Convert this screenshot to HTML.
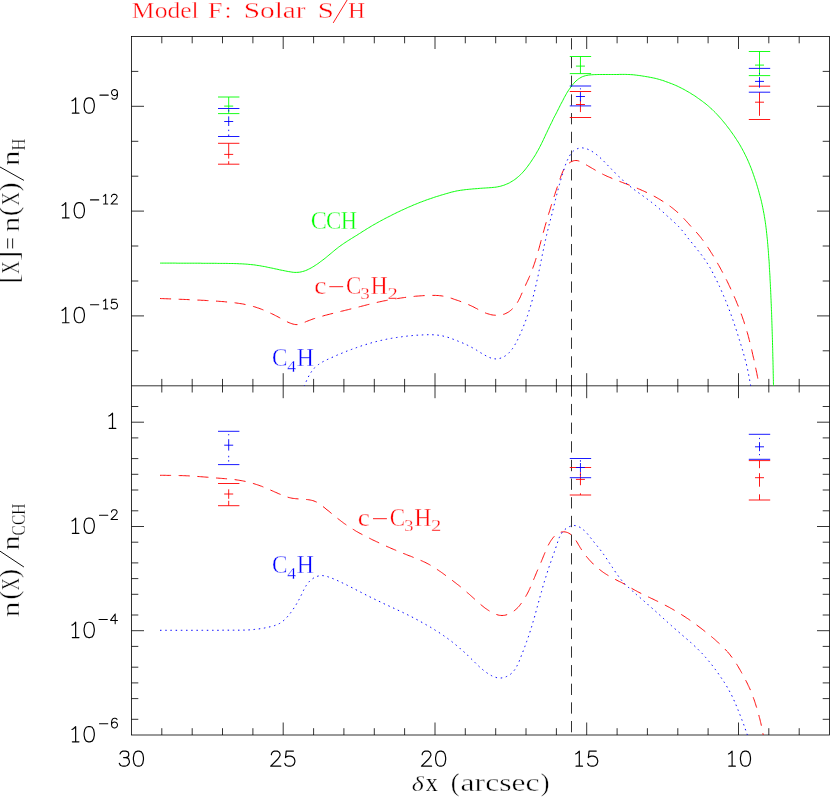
<!DOCTYPE html>
<html><head><meta charset="utf-8"><title>Model F: Solar S/H</title>
<style>
html,body{margin:0;padding:0;background:#fff;}
body{width:830px;height:797px;position:relative;overflow:hidden;font-family:"Liberation Serif",serif;}
svg{position:absolute;left:0;top:0;display:block;}
</style></head><body>
<svg width="830" height="797" viewBox="0 0 830 797">
<rect x="0" y="0" width="830" height="797" fill="#fff"/>
<g stroke="#000" stroke-width="0.8" fill="none" shape-rendering="auto">
<rect x="131.5" y="36.5" width="698.0" height="698.5"/>
<line x1="131.5" y1="385.8" x2="829.5" y2="385.8"/>
<path d="M799.2 36.5 v6.8 M799.2 378.9 v13.6 M799.2 735.0 v-6.8 M768.8 36.5 v6.8 M768.8 378.9 v13.6 M768.8 735.0 v-6.8 M738.5 36.5 v12.5 M738.5 373.2 v25.0 M738.5 735.0 v-12.5 M708.1 36.5 v6.8 M708.1 378.9 v13.6 M708.1 735.0 v-6.8 M677.8 36.5 v6.8 M677.8 378.9 v13.6 M677.8 735.0 v-6.8 M647.4 36.5 v6.8 M647.4 378.9 v13.6 M647.4 735.0 v-6.8 M617.1 36.5 v6.8 M617.1 378.9 v13.6 M617.1 735.0 v-6.8 M586.7 36.5 v12.5 M586.7 373.2 v25.0 M586.7 735.0 v-12.5 M556.4 36.5 v6.8 M556.4 378.9 v13.6 M556.4 735.0 v-6.8 M526.0 36.5 v6.8 M526.0 378.9 v13.6 M526.0 735.0 v-6.8 M495.7 36.5 v6.8 M495.7 378.9 v13.6 M495.7 735.0 v-6.8 M465.3 36.5 v6.8 M465.3 378.9 v13.6 M465.3 735.0 v-6.8 M435.0 36.5 v12.5 M435.0 373.2 v25.0 M435.0 735.0 v-12.5 M404.6 36.5 v6.8 M404.6 378.9 v13.6 M404.6 735.0 v-6.8 M374.3 36.5 v6.8 M374.3 378.9 v13.6 M374.3 735.0 v-6.8 M343.9 36.5 v6.8 M343.9 378.9 v13.6 M343.9 735.0 v-6.8 M313.6 36.5 v6.8 M313.6 378.9 v13.6 M313.6 735.0 v-6.8 M283.2 36.5 v12.5 M283.2 373.2 v25.0 M283.2 735.0 v-12.5 M252.9 36.5 v6.8 M252.9 378.9 v13.6 M252.9 735.0 v-6.8 M222.5 36.5 v6.8 M222.5 378.9 v13.6 M222.5 735.0 v-6.8 M192.2 36.5 v6.8 M192.2 378.9 v13.6 M192.2 735.0 v-6.8 M161.8 36.5 v6.8 M161.8 378.9 v13.6 M161.8 735.0 v-6.8 M131.5 350.8 h6.8 M829.5 350.8 h-6.8 M131.5 315.9 h12.5 M829.5 315.9 h-12.5 M131.5 281.0 h6.8 M829.5 281.0 h-6.8 M131.5 246.0 h6.8 M829.5 246.0 h-6.8 M131.5 211.1 h12.5 M829.5 211.1 h-12.5 M131.5 176.2 h6.8 M829.5 176.2 h-6.8 M131.5 141.3 h6.8 M829.5 141.3 h-6.8 M131.5 106.3 h12.5 M829.5 106.3 h-12.5 M131.5 71.4 h6.8 M829.5 71.4 h-6.8 M131.5 719.3 h6.8 M829.5 719.3 h-6.8 M131.5 698.6 h6.8 M829.5 698.6 h-6.8 M131.5 682.9 h6.8 M829.5 682.9 h-6.8 M131.5 667.2 h6.8 M829.5 667.2 h-6.8 M131.5 646.4 h6.8 M829.5 646.4 h-6.8 M131.5 630.7 h12.5 M829.5 630.7 h-12.5 M131.5 615.0 h6.8 M829.5 615.0 h-6.8 M131.5 594.3 h6.8 M829.5 594.3 h-6.8 M131.5 578.6 h6.8 M829.5 578.6 h-6.8 M131.5 562.9 h6.8 M829.5 562.9 h-6.8 M131.5 542.2 h6.8 M829.5 542.2 h-6.8 M131.5 526.5 h12.5 M829.5 526.5 h-12.5 M131.5 510.8 h6.8 M829.5 510.8 h-6.8 M131.5 490.0 h6.8 M829.5 490.0 h-6.8 M131.5 474.3 h6.8 M829.5 474.3 h-6.8 M131.5 458.6 h6.8 M829.5 458.6 h-6.8 M131.5 437.9 h6.8 M829.5 437.9 h-6.8 M131.5 422.2 h12.5 M829.5 422.2 h-12.5 M131.5 406.5 h6.8 M829.5 406.5 h-6.8"/>
</g>
<g stroke="#000" stroke-width="0.8" fill="none">
<line x1="571.5" y1="38.2" x2="571.5" y2="386.3" stroke-dasharray="11.3 7.41"/>
<line x1="571.5" y1="385.3" x2="571.5" y2="735.0" stroke-dasharray="11.3 7.35"/>
</g>
<defs><clipPath id="ct"><rect x="131.5" y="36.5" width="698.0" height="349.2"/></clipPath>
<clipPath id="cb"><rect x="131.5" y="385.8" width="698.0" height="349.2"/></clipPath></defs>
<g fill="none" stroke-width="0.95" clip-path="url(#ct)">
<path d="M160.1 263.1 L161.7 263.1 L163.2 263.1 L164.8 263.1 L166.3 263.1 L167.9 263.1 L169.4 263.1 L171.0 263.1 L172.6 263.1 L174.1 263.1 L175.7 263.1 L177.2 263.2 L178.8 263.2 L180.3 263.2 L181.9 263.2 L183.5 263.2 L185.0 263.2 L186.6 263.2 L188.1 263.2 L189.7 263.2 L191.2 263.2 L192.8 263.2 L194.4 263.2 L195.9 263.2 L197.5 263.2 L199.0 263.2 L200.6 263.2 L202.1 263.3 L203.7 263.3 L205.3 263.3 L206.8 263.3 L208.4 263.3 L209.9 263.3 L211.5 263.3 L213.0 263.3 L214.6 263.3 L216.2 263.3 L217.7 263.4 L219.3 263.4 L220.8 263.4 L222.4 263.4 L223.9 263.4 L225.5 263.4 L227.1 263.4 L228.6 263.5 L230.2 263.5 L231.8 263.5 L233.3 263.5 L234.9 263.6 L236.4 263.6 L238.0 263.7 L239.5 263.8 L241.1 263.8 L242.7 263.9 L244.2 264.0 L245.8 264.1 L247.3 264.2 L248.9 264.4 L250.4 264.5 L252.0 264.7 L253.5 264.8 L255.1 265.0 L256.6 265.3 L258.1 265.5 L259.7 265.7 L261.2 266.0 L262.7 266.3 L264.3 266.5 L265.8 266.8 L267.3 267.2 L268.8 267.5 L270.4 267.8 L271.9 268.1 L273.4 268.4 L274.9 268.8 L276.5 269.1 L278.0 269.4 L279.5 269.8 L281.0 270.1 L282.6 270.4 L284.1 270.7 L285.6 271.0 L287.1 271.3 L288.7 271.6 L290.2 271.8 L291.8 272.1 L293.3 272.3 L294.9 272.4 L296.4 272.4 L298.0 272.3 L299.5 272.2 L301.1 271.9 L302.6 271.5 L304.1 271.1 L305.5 270.6 L307.0 270.0 L308.4 269.3 L309.8 268.6 L311.2 267.9 L312.5 267.1 L313.9 266.3 L315.2 265.4 L316.5 264.6 L317.8 263.7 L319.1 262.8 L320.3 261.8 L321.6 260.9 L322.8 260.0 L324.1 259.0 L325.3 258.1 L326.5 257.1 L327.7 256.1 L328.9 255.1 L330.1 254.1 L331.3 253.1 L332.5 252.1 L333.7 251.1 L334.9 250.1 L336.1 249.1 L337.3 248.2 L338.5 247.2 L339.8 246.3 L341.0 245.4 L342.3 244.5 L343.6 243.6 L344.9 242.7 L346.2 241.9 L347.5 241.0 L348.8 240.2 L350.1 239.4 L351.5 238.5 L352.8 237.7 L354.1 236.9 L355.4 236.1 L356.8 235.3 L358.1 234.4 L359.4 233.6 L360.7 232.8 L362.0 231.9 L363.3 231.1 L364.7 230.3 L366.0 229.4 L367.3 228.6 L368.6 227.8 L370.0 227.0 L371.3 226.2 L372.6 225.4 L374.0 224.6 L375.3 223.9 L376.7 223.1 L378.1 222.3 L379.4 221.6 L380.8 220.8 L382.2 220.1 L383.5 219.4 L384.9 218.6 L386.3 217.9 L387.7 217.2 L389.1 216.5 L390.5 215.8 L391.8 215.1 L393.2 214.4 L394.6 213.7 L396.0 213.0 L397.4 212.3 L398.8 211.7 L400.2 211.0 L401.6 210.3 L403.1 209.7 L404.5 209.0 L405.9 208.4 L407.3 207.7 L408.7 207.1 L410.2 206.5 L411.6 205.9 L413.0 205.2 L414.5 204.6 L415.9 204.1 L417.3 203.5 L418.8 202.9 L420.2 202.3 L421.7 201.8 L423.2 201.2 L424.6 200.7 L426.1 200.1 L427.5 199.6 L429.0 199.1 L430.5 198.6 L432.0 198.1 L433.4 197.6 L434.9 197.1 L436.4 196.6 L437.9 196.2 L439.4 195.7 L440.9 195.2 L442.3 194.8 L443.8 194.4 L445.3 193.9 L446.8 193.5 L448.3 193.1 L449.8 192.6 L451.3 192.2 L452.9 191.8 L454.4 191.5 L455.9 191.1 L457.4 190.8 L458.9 190.6 L460.5 190.3 L462.0 190.1 L463.6 189.9 L465.1 189.7 L466.7 189.5 L468.2 189.4 L469.8 189.2 L471.3 189.1 L472.9 188.9 L474.4 188.8 L476.0 188.7 L477.5 188.6 L479.1 188.4 L480.6 188.3 L482.2 188.2 L483.7 188.1 L485.3 188.0 L486.8 187.9 L488.4 187.8 L490.0 187.7 L491.5 187.6 L493.1 187.4 L494.6 187.3 L496.2 187.1 L497.7 186.8 L499.2 186.5 L500.7 186.2 L502.2 185.7 L503.7 185.3 L505.2 184.7 L506.6 184.1 L508.1 183.5 L509.5 182.8 L510.8 182.0 L512.2 181.2 L513.5 180.4 L514.8 179.5 L516.0 178.6 L517.2 177.6 L518.4 176.6 L519.6 175.5 L520.7 174.5 L521.8 173.4 L522.9 172.2 L523.9 171.1 L524.9 169.9 L525.9 168.7 L526.8 167.4 L527.8 166.2 L528.7 164.9 L529.6 163.7 L530.5 162.4 L531.4 161.1 L532.2 159.8 L533.1 158.5 L533.9 157.2 L534.8 155.9 L535.6 154.5 L536.4 153.2 L537.1 151.8 L537.9 150.5 L538.7 149.1 L539.4 147.7 L540.1 146.4 L540.8 145.0 L541.5 143.6 L542.2 142.2 L542.9 140.8 L543.5 139.4 L544.2 138.0 L544.9 136.5 L545.5 135.1 L546.2 133.7 L546.9 132.3 L547.5 130.9 L548.2 129.5 L548.9 128.1 L549.5 126.7 L550.2 125.3 L550.9 123.9 L551.6 122.5 L552.3 121.1 L552.9 119.7 L553.6 118.3 L554.3 116.9 L555.1 115.5 L555.8 114.1 L556.5 112.8 L557.2 111.4 L557.9 110.0 L558.6 108.6 L559.3 107.2 L560.0 105.8 L560.7 104.4 L561.4 103.1 L562.2 101.7 L562.9 100.3 L563.6 98.9 L564.3 97.5 L565.1 96.1 L565.8 94.8 L566.6 93.4 L567.4 92.1 L568.2 90.8 L569.1 89.5 L570.0 88.2 L570.9 86.9 L571.8 85.7 L572.8 84.5 L573.8 83.3 L574.9 82.1 L576.0 81.0 L577.2 80.0 L578.4 79.0 L579.7 78.2 L581.0 77.4 L582.4 76.7 L583.9 76.2 L585.4 75.7 L586.9 75.4 L588.5 75.1 L590.0 74.9 L591.6 74.8 L593.1 74.7 L594.7 74.6 L596.2 74.6 L597.8 74.5 L599.3 74.5 L600.9 74.5 L602.5 74.5 L604.0 74.5 L605.6 74.5 L607.1 74.5 L608.7 74.5 L610.2 74.5 L611.8 74.5 L613.4 74.5 L614.9 74.5 L616.5 74.5 L618.0 74.5 L619.6 74.4 L621.1 74.4 L622.7 74.4 L624.3 74.4 L625.8 74.4 L627.4 74.5 L628.9 74.5 L630.5 74.6 L632.0 74.7 L633.6 74.8 L635.1 75.0 L636.7 75.2 L638.2 75.4 L639.8 75.6 L641.3 75.8 L642.9 76.1 L644.4 76.3 L645.9 76.6 L647.5 76.8 L649.0 77.1 L650.5 77.4 L652.1 77.7 L653.6 78.0 L655.1 78.3 L656.6 78.7 L658.1 79.1 L659.6 79.5 L661.1 80.0 L662.6 80.4 L664.1 80.9 L665.5 81.5 L667.0 82.0 L668.5 82.5 L669.9 83.1 L671.4 83.6 L672.8 84.2 L674.3 84.8 L675.7 85.4 L677.1 86.0 L678.5 86.7 L679.9 87.4 L681.3 88.1 L682.7 88.8 L684.1 89.5 L685.4 90.3 L686.8 91.1 L688.1 91.8 L689.5 92.6 L690.8 93.4 L692.1 94.3 L693.5 95.1 L694.8 95.9 L696.1 96.8 L697.3 97.7 L698.6 98.6 L699.9 99.5 L701.1 100.4 L702.4 101.3 L703.6 102.3 L704.9 103.2 L706.1 104.2 L707.3 105.2 L708.5 106.2 L709.6 107.2 L710.8 108.3 L712.0 109.3 L713.1 110.4 L714.2 111.5 L715.3 112.6 L716.4 113.7 L717.4 114.8 L718.5 116.0 L719.5 117.1 L720.6 118.3 L721.6 119.5 L722.6 120.7 L723.6 121.9 L724.6 123.1 L725.6 124.3 L726.5 125.5 L727.5 126.8 L728.4 128.0 L729.4 129.2 L730.3 130.5 L731.2 131.8 L732.1 133.0 L733.0 134.3 L733.9 135.6 L734.8 136.9 L735.6 138.2 L736.5 139.5 L737.3 140.8 L738.2 142.1 L739.0 143.4 L739.8 144.8 L740.6 146.1 L741.3 147.5 L742.1 148.8 L742.8 150.2 L743.6 151.6 L744.3 153.0 L745.0 154.4 L745.7 155.8 L746.4 157.2 L747.0 158.6 L747.7 160.0 L748.3 161.4 L748.9 162.8 L749.5 164.3 L750.1 165.7 L750.7 167.2 L751.3 168.6 L751.8 170.1 L752.4 171.5 L752.9 173.0 L753.4 174.5 L753.9 175.9 L754.4 177.4 L754.9 178.9 L755.4 180.4 L755.9 181.8 L756.4 183.3 L756.8 184.8 L757.3 186.3 L757.7 187.8 L758.2 189.3 L758.6 190.8 L759.0 192.3 L759.4 193.8 L759.8 195.3 L760.2 196.8 L760.6 198.3 L761.0 199.8 L761.4 201.3 L761.7 202.8 L762.1 204.4 L762.4 205.9 L762.7 207.4 L763.0 208.9 L763.3 210.5 L763.6 212.0 L763.9 213.5 L764.2 215.1 L764.4 216.6 L764.7 218.1 L764.9 219.7 L765.2 221.2 L765.4 222.8 L765.6 224.3 L765.8 225.8 L766.0 227.4 L766.2 228.9 L766.4 230.5 L766.5 232.0 L766.7 233.6 L766.9 235.1 L767.0 236.7 L767.2 238.2 L767.4 239.8 L767.5 241.3 L767.6 242.9 L767.8 244.4 L767.9 246.0 L768.0 247.5 L768.2 249.1 L768.3 250.6 L768.4 252.2 L768.5 253.7 L768.6 255.3 L768.7 256.8 L768.8 258.4 L769.0 260.0 L769.1 261.5 L769.2 263.1 L769.3 264.6 L769.3 266.2 L769.4 267.7 L769.5 269.3 L769.6 270.8 L769.7 272.4 L769.8 273.9 L769.9 275.5 L770.0 277.1 L770.0 278.6 L770.1 280.2 L770.2 281.7 L770.3 283.3 L770.4 284.8 L770.4 286.4 L770.5 287.9 L770.6 289.5 L770.7 291.1 L770.7 292.6 L770.8 294.2 L770.9 295.7 L770.9 297.3 L771.0 298.8 L771.1 300.4 L771.1 301.9 L771.2 303.5 L771.3 305.1 L771.3 306.6 L771.4 308.2 L771.4 309.7 L771.5 311.3 L771.6 312.8 L771.6 314.4 L771.7 315.9 L771.7 317.5 L771.8 319.1 L771.8 320.6 L771.9 322.2 L771.9 323.7 L772.0 325.3 L772.0 326.8 L772.1 328.4 L772.1 330.0 L772.2 331.5 L772.2 333.1 L772.3 334.6 L772.3 336.2 L772.4 337.7 L772.4 339.3 L772.5 340.9 L772.5 342.4 L772.5 344.0 L772.6 345.5 L772.6 347.1 L772.7 348.6 L772.7 350.2 L772.7 351.7 L772.8 353.3 L772.8 354.9 L772.8 356.4 L772.9 358.0 L772.9 359.5 L773.0 361.1 L773.0 362.6 L773.0 364.2 L773.1 365.8 L773.1 367.3 L773.1 368.9 L773.2 370.4 L773.2 372.0 L773.2 373.5 L773.3 375.1 L773.3 376.7 L773.3 378.2 L773.4 379.8 L773.4 381.3 L773.4 382.9 L773.5 384.4 L773.5 386.0" stroke="#00ff00"/>
<path d="M160.0 298.5 L161.4 298.6 L162.8 298.6 L164.2 298.7 L165.6 298.7 L167.0 298.8 L168.4 298.8 L169.8 298.9 L171.2 298.9 L172.6 299.0 L174.0 299.0 L175.4 299.1 L176.8 299.1 L178.2 299.2 L179.6 299.3 L181.0 299.3 L182.4 299.4 L183.8 299.4 L185.2 299.5 L186.6 299.5 L188.0 299.6 L189.4 299.7 L190.8 299.7 L192.2 299.8 L193.6 299.9 L195.0 299.9 L196.4 300.0 L197.8 300.1 L199.2 300.1 L200.6 300.2 L202.0 300.3 L203.4 300.3 L204.8 300.4 L206.2 300.5 L207.6 300.6 L209.0 300.6 L210.4 300.7 L211.8 300.8 L213.2 300.9 L214.6 301.0 L216.0 301.1 L217.4 301.2 L218.8 301.3 L220.2 301.4 L221.6 301.5 L223.0 301.6 L224.4 301.7 L225.8 301.9 L227.2 302.0 L228.6 302.1 L230.0 302.3 L231.4 302.4 L232.8 302.6 L234.2 302.7 L235.6 302.9 L237.0 303.1 L238.4 303.3 L239.7 303.5 L241.1 303.7 L242.5 303.9 L243.9 304.2 L245.3 304.5 L246.6 304.8 L248.0 305.1 L249.4 305.4 L250.7 305.8 L252.1 306.1 L253.4 306.5 L254.8 306.9 L256.1 307.3 L257.4 307.8 L258.8 308.2 L260.1 308.7 L261.4 309.2 L262.7 309.7 L264.0 310.2 L265.3 310.8 L266.6 311.3 L267.9 311.9 L269.2 312.5 L270.4 313.1 L271.7 313.7 L273.0 314.3 L274.2 314.9 L275.5 315.6 L276.7 316.2 L278.0 316.9 L279.2 317.5 L280.4 318.2 L281.6 318.9 L282.9 319.5 L284.1 320.2 L285.3 320.9 L286.6 321.5 L287.8 322.1 L289.1 322.7 L290.4 323.2 L291.8 323.7 L293.1 324.1 L294.5 324.4 L295.9 324.6 L297.3 324.6 L298.6 324.4 L300.0 324.0 L301.3 323.6 L302.7 323.1 L304.0 322.5 L305.3 322.0 L306.6 321.4 L308.0 320.9 L309.3 320.4 L310.6 319.9 L311.9 319.4 L313.2 318.9 L314.6 318.5 L315.9 318.1 L317.2 317.6 L318.5 317.2 L319.9 316.8 L321.2 316.5 L322.6 316.1 L323.9 315.7 L325.3 315.3 L326.6 315.0 L328.0 314.6 L329.3 314.3 L330.7 313.9 L332.1 313.6 L333.4 313.2 L334.8 312.9 L336.2 312.6 L337.5 312.2 L338.9 311.9 L340.2 311.6 L341.6 311.2 L343.0 310.9 L344.3 310.6 L345.7 310.2 L347.1 309.9 L348.4 309.6 L349.8 309.2 L351.1 308.9 L352.5 308.6 L353.9 308.2 L355.2 307.9 L356.6 307.5 L357.9 307.2 L359.3 306.8 L360.6 306.5 L362.0 306.1 L363.4 305.8 L364.7 305.4 L366.1 305.1 L367.4 304.7 L368.8 304.4 L370.2 304.1 L371.5 303.7 L372.9 303.4 L374.2 303.1 L375.6 302.7 L377.0 302.4 L378.3 302.1 L379.7 301.8 L381.1 301.5 L382.5 301.2 L383.8 300.9 L385.2 300.7 L386.6 300.4 L388.0 300.1 L389.3 299.9 L390.7 299.6 L392.1 299.4 L393.5 299.1 L394.9 298.9 L396.2 298.7 L397.6 298.5 L399.0 298.3 L400.4 298.1 L401.8 297.9 L403.2 297.7 L404.6 297.5 L406.0 297.3 L407.4 297.1 L408.7 297.0 L410.1 296.8 L411.5 296.7 L412.9 296.5 L414.3 296.4 L415.7 296.2 L417.1 296.1 L418.5 296.0 L419.9 295.9 L421.3 295.8 L422.7 295.7 L424.1 295.6 L425.5 295.6 L426.9 295.5 L428.3 295.5 L429.7 295.4 L431.1 295.4 L432.5 295.4 L434.0 295.4 L435.4 295.4 L436.8 295.5 L438.2 295.5 L439.6 295.7 L441.0 295.8 L442.3 296.0 L443.7 296.2 L445.1 296.5 L446.4 296.9 L447.8 297.2 L449.1 297.6 L450.5 298.0 L451.8 298.4 L453.2 298.9 L454.5 299.4 L455.8 299.8 L457.2 300.3 L458.5 300.7 L459.8 301.2 L461.1 301.7 L462.4 302.2 L463.8 302.7 L465.1 303.2 L466.4 303.7 L467.7 304.3 L468.9 304.8 L470.2 305.4 L471.5 306.0 L472.8 306.6 L474.0 307.2 L475.2 307.9 L476.5 308.5 L477.7 309.2 L479.0 309.8 L480.2 310.5 L481.5 311.1 L482.7 311.7 L484.0 312.3 L485.3 312.9 L486.6 313.4 L487.9 313.8 L489.3 314.2 L490.6 314.6 L492.0 314.9 L493.4 315.1 L494.8 315.2 L496.2 315.3 L497.6 315.3 L499.1 315.2 L500.5 315.0 L501.9 314.7 L503.2 314.4 L504.6 314.0 L505.9 313.4 L507.1 312.8 L508.4 312.1 L509.5 311.3 L510.7 310.4 L511.7 309.5 L512.8 308.5 L513.7 307.5 L514.6 306.4 L515.5 305.3 L516.3 304.2 L517.1 303.0 L517.8 301.8 L518.5 300.6 L519.1 299.3 L519.8 298.1 L520.4 296.8 L520.9 295.5 L521.5 294.2 L522.1 292.9 L522.7 291.6 L523.2 290.3 L523.8 289.0 L524.4 287.8 L525.0 286.5 L525.6 285.2 L526.1 283.9 L526.7 282.7 L527.3 281.4 L527.9 280.1 L528.5 278.8 L529.0 277.6 L529.6 276.3 L530.1 275.0 L530.7 273.7 L531.2 272.4 L531.7 271.1 L532.2 269.8 L532.7 268.5 L533.1 267.2 L533.6 265.9 L534.1 264.5 L534.5 263.2 L535.0 261.9 L535.4 260.5 L535.8 259.2 L536.2 257.9 L536.6 256.5 L537.0 255.2 L537.4 253.8 L537.8 252.5 L538.2 251.1 L538.6 249.8 L539.0 248.4 L539.4 247.1 L539.7 245.7 L540.1 244.4 L540.5 243.0 L540.8 241.6 L541.2 240.3 L541.6 238.9 L541.9 237.6 L542.3 236.2 L542.7 234.9 L543.0 233.5 L543.4 232.1 L543.8 230.8 L544.2 229.4 L544.5 228.1 L544.9 226.7 L545.3 225.4 L545.7 224.0 L546.1 222.7 L546.5 221.3 L546.8 220.0 L547.2 218.6 L547.6 217.3 L548.0 215.9 L548.4 214.6 L548.8 213.3 L549.3 211.9 L549.7 210.6 L550.1 209.2 L550.5 207.9 L550.9 206.6 L551.3 205.2 L551.8 203.9 L552.2 202.6 L552.6 201.2 L553.0 199.9 L553.5 198.6 L553.9 197.2 L554.3 195.9 L554.8 194.6 L555.2 193.2 L555.6 191.9 L556.1 190.6 L556.5 189.2 L557.0 187.9 L557.4 186.6 L557.9 185.3 L558.3 183.9 L558.8 182.6 L559.2 181.3 L559.7 179.9 L560.1 178.6 L560.6 177.3 L561.0 175.9 L561.5 174.6 L562.0 173.3 L562.6 172.0 L563.2 170.7 L563.8 169.5 L564.5 168.3 L565.3 167.1 L566.2 166.0 L567.2 164.9 L568.3 163.9 L569.4 162.9 L570.6 162.1 L571.9 161.4 L573.2 160.9 L574.5 160.6 L575.9 160.5 L577.2 160.6 L578.5 160.9 L579.9 161.3 L581.2 161.9 L582.5 162.6 L583.8 163.3 L585.0 164.1 L586.3 164.9 L587.6 165.6 L588.8 166.4 L590.1 167.1 L591.3 167.8 L592.5 168.5 L593.7 169.2 L594.9 169.9 L596.1 170.6 L597.3 171.3 L598.5 172.0 L599.8 172.6 L601.0 173.2 L602.2 173.9 L603.4 174.5 L604.6 175.1 L605.9 175.7 L607.1 176.3 L608.4 176.8 L609.7 177.4 L611.0 177.9 L612.2 178.5 L613.5 179.0 L614.8 179.5 L616.1 180.0 L617.4 180.6 L618.8 181.1 L620.1 181.6 L621.4 182.1 L622.7 182.6 L624.0 183.1 L625.4 183.6 L626.7 184.1 L628.0 184.6 L629.3 185.1 L630.6 185.6 L631.9 186.1 L633.2 186.6 L634.5 187.2 L635.8 187.7 L637.1 188.2 L638.4 188.8 L639.7 189.3 L641.0 189.9 L642.3 190.5 L643.6 191.0 L644.8 191.6 L646.1 192.2 L647.4 192.8 L648.6 193.4 L649.9 194.0 L651.1 194.7 L652.4 195.3 L653.6 196.0 L654.9 196.6 L656.1 197.3 L657.3 198.0 L658.5 198.7 L659.7 199.4 L660.9 200.1 L662.1 200.9 L663.3 201.6 L664.5 202.4 L665.7 203.2 L666.8 204.0 L668.0 204.8 L669.1 205.6 L670.3 206.4 L671.4 207.3 L672.5 208.1 L673.6 209.0 L674.7 209.9 L675.8 210.8 L676.8 211.7 L677.9 212.6 L678.9 213.6 L679.9 214.5 L680.9 215.5 L681.9 216.5 L682.9 217.5 L683.8 218.5 L684.8 219.6 L685.7 220.6 L686.7 221.6 L687.6 222.7 L688.6 223.7 L689.5 224.8 L690.4 225.8 L691.4 226.9 L692.3 227.9 L693.3 228.9 L694.2 229.9 L695.2 231.0 L696.1 232.0 L697.1 233.1 L698.0 234.1 L698.9 235.2 L699.8 236.3 L700.7 237.3 L701.5 238.5 L702.4 239.6 L703.2 240.7 L704.0 241.8 L704.9 243.0 L705.7 244.1 L706.5 245.3 L707.2 246.4 L708.0 247.6 L708.8 248.8 L709.6 250.0 L710.3 251.2 L711.0 252.3 L711.8 253.5 L712.5 254.7 L713.3 255.9 L714.0 257.1 L714.7 258.4 L715.4 259.6 L716.1 260.8 L716.8 262.0 L717.5 263.2 L718.2 264.4 L718.9 265.6 L719.6 266.9 L720.3 268.1 L720.9 269.3 L721.6 270.6 L722.3 271.8 L722.9 273.0 L723.6 274.3 L724.2 275.5 L724.9 276.8 L725.5 278.0 L726.1 279.3 L726.8 280.5 L727.4 281.8 L728.0 283.0 L728.6 284.3 L729.2 285.6 L729.8 286.8 L730.4 288.1 L731.0 289.4 L731.6 290.6 L732.2 291.9 L732.7 293.2 L733.3 294.5 L733.9 295.8 L734.4 297.1 L735.0 298.3 L735.5 299.6 L736.1 300.9 L736.6 302.2 L737.1 303.5 L737.7 304.8 L738.2 306.1 L738.7 307.4 L739.2 308.7 L739.7 310.0 L740.2 311.4 L740.7 312.7 L741.2 314.0 L741.7 315.3 L742.2 316.6 L742.6 317.9 L743.1 319.3 L743.6 320.6 L744.0 321.9 L744.4 323.3 L744.9 324.6 L745.3 325.9 L745.7 327.3 L746.1 328.6 L746.5 329.9 L746.9 331.3 L747.3 332.6 L747.7 334.0 L748.1 335.3 L748.4 336.7 L748.8 338.0 L749.1 339.4 L749.5 340.8 L749.8 342.1 L750.2 343.5 L750.5 344.8 L750.8 346.2 L751.2 347.6 L751.5 348.9 L751.8 350.3 L752.1 351.7 L752.4 353.0 L752.7 354.4 L753.0 355.8 L753.3 357.1 L753.7 358.5 L754.0 359.9 L754.3 361.3 L754.6 362.6 L754.9 364.0 L755.2 365.4 L755.5 366.7 L755.7 368.1 L756.0 369.5 L756.3 370.9 L756.6 372.2 L756.9 373.6 L757.1 375.0 L757.4 376.3 L757.7 377.7 L757.9 379.1 L758.2 380.5 L758.5 381.9 L758.7 383.2 L759.0 384.6 L759.2 386.0" stroke="#ff0000" stroke-dasharray="11.1 7.6"/>
<path d="M304.0 386.5 L304.5 385.3 L305.0 384.1 L305.6 382.9 L306.1 381.7 L306.6 380.5 L307.2 379.3 L307.7 378.2 L308.3 377.0 L308.9 375.9 L309.5 374.8 L310.2 373.7 L310.8 372.7 L311.5 371.6 L312.3 370.6 L313.0 369.7 L313.8 368.7 L314.6 367.8 L315.5 367.0 L316.4 366.2 L317.4 365.4 L318.4 364.6 L319.4 363.9 L320.4 363.2 L321.5 362.6 L322.6 361.9 L323.7 361.3 L324.9 360.7 L326.0 360.2 L327.2 359.6 L328.3 359.1 L329.5 358.5 L330.7 358.0 L331.8 357.5 L333.0 357.0 L334.2 356.4 L335.3 355.9 L336.5 355.4 L337.7 354.9 L338.8 354.4 L340.0 354.0 L341.1 353.5 L342.3 353.0 L343.5 352.5 L344.6 352.1 L345.8 351.6 L346.9 351.1 L348.1 350.7 L349.3 350.2 L350.5 349.8 L351.6 349.4 L352.8 348.9 L354.0 348.5 L355.2 348.1 L356.3 347.7 L357.5 347.2 L358.7 346.8 L359.9 346.4 L361.1 346.0 L362.3 345.6 L363.5 345.3 L364.7 344.9 L365.9 344.5 L367.1 344.1 L368.3 343.8 L369.5 343.4 L370.7 343.1 L371.9 342.7 L373.1 342.4 L374.4 342.1 L375.6 341.7 L376.8 341.4 L378.0 341.1 L379.3 340.8 L380.5 340.5 L381.7 340.3 L382.9 340.0 L384.2 339.7 L385.4 339.5 L386.6 339.2 L387.9 339.0 L389.1 338.7 L390.4 338.5 L391.6 338.3 L392.8 338.1 L394.1 337.9 L395.3 337.7 L396.6 337.5 L397.8 337.3 L399.1 337.1 L400.3 336.9 L401.5 336.8 L402.8 336.6 L404.0 336.4 L405.3 336.3 L406.5 336.2 L407.8 336.0 L409.0 335.9 L410.3 335.8 L411.5 335.7 L412.8 335.5 L414.0 335.4 L415.3 335.3 L416.6 335.2 L417.8 335.2 L419.1 335.1 L420.3 335.0 L421.6 335.0 L422.8 334.9 L424.1 334.8 L425.4 334.8 L426.6 334.8 L427.9 334.7 L429.2 334.7 L430.4 334.7 L431.7 334.7 L433.0 334.8 L434.2 334.8 L435.5 334.9 L436.7 335.0 L438.0 335.2 L439.2 335.3 L440.5 335.5 L441.7 335.7 L442.9 336.0 L444.1 336.3 L445.3 336.6 L446.6 337.0 L447.8 337.3 L449.0 337.7 L450.2 338.1 L451.4 338.5 L452.5 339.0 L453.7 339.4 L454.9 339.9 L456.1 340.3 L457.3 340.8 L458.4 341.3 L459.6 341.7 L460.8 342.2 L462.0 342.7 L463.1 343.2 L464.3 343.7 L465.4 344.2 L466.6 344.8 L467.7 345.3 L468.8 345.9 L469.9 346.4 L471.0 347.0 L472.1 347.6 L473.2 348.2 L474.3 348.9 L475.4 349.5 L476.5 350.1 L477.5 350.8 L478.6 351.5 L479.6 352.1 L480.7 352.8 L481.8 353.4 L482.9 354.1 L484.0 354.7 L485.1 355.3 L486.2 355.9 L487.4 356.5 L488.6 357.1 L489.7 357.6 L490.9 358.0 L492.1 358.4 L493.4 358.7 L494.6 358.8 L495.8 358.9 L497.1 358.9 L498.3 358.7 L499.6 358.4 L500.8 358.1 L502.0 357.6 L503.2 357.1 L504.3 356.5 L505.4 355.8 L506.5 355.0 L507.5 354.2 L508.4 353.4 L509.3 352.5 L510.2 351.6 L511.0 350.6 L511.7 349.6 L512.5 348.6 L513.2 347.5 L513.9 346.4 L514.5 345.4 L515.2 344.3 L515.8 343.2 L516.4 342.1 L517.0 340.9 L517.6 339.8 L518.1 338.7 L518.6 337.6 L519.2 336.4 L519.7 335.3 L520.2 334.1 L520.7 333.0 L521.2 331.8 L521.7 330.7 L522.2 329.5 L522.7 328.3 L523.1 327.2 L523.6 326.0 L524.1 324.8 L524.5 323.7 L525.0 322.5 L525.4 321.3 L525.9 320.1 L526.3 318.9 L526.7 317.8 L527.1 316.6 L527.6 315.4 L528.0 314.2 L528.4 313.0 L528.8 311.8 L529.1 310.6 L529.5 309.4 L529.9 308.2 L530.3 307.0 L530.6 305.8 L531.0 304.6 L531.4 303.4 L531.7 302.2 L532.0 301.0 L532.4 299.7 L532.7 298.5 L533.0 297.3 L533.3 296.1 L533.7 294.9 L534.0 293.7 L534.3 292.4 L534.6 291.2 L534.9 290.0 L535.2 288.8 L535.5 287.6 L535.7 286.3 L536.0 285.1 L536.3 283.9 L536.6 282.6 L536.8 281.4 L537.1 280.2 L537.4 279.0 L537.7 277.7 L537.9 276.5 L538.2 275.3 L538.4 274.0 L538.7 272.8 L538.9 271.6 L539.2 270.3 L539.5 269.1 L539.7 267.9 L540.0 266.6 L540.2 265.4 L540.5 264.2 L540.7 262.9 L541.0 261.7 L541.2 260.5 L541.5 259.2 L541.7 258.0 L541.9 256.7 L542.2 255.5 L542.4 254.3 L542.7 253.0 L543.0 251.8 L543.2 250.6 L543.5 249.3 L543.7 248.1 L544.0 246.9 L544.2 245.6 L544.5 244.4 L544.8 243.2 L545.0 242.0 L545.3 240.7 L545.6 239.5 L545.9 238.3 L546.1 237.0 L546.4 235.8 L546.7 234.6 L547.0 233.4 L547.3 232.1 L547.6 230.9 L547.9 229.7 L548.2 228.5 L548.5 227.2 L548.8 226.0 L549.1 224.8 L549.4 223.6 L549.8 222.4 L550.1 221.2 L550.4 219.9 L550.7 218.7 L551.0 217.5 L551.4 216.3 L551.7 215.1 L552.0 213.9 L552.3 212.6 L552.6 211.4 L552.9 210.2 L553.2 209.0 L553.5 207.8 L553.8 206.5 L554.1 205.3 L554.4 204.1 L554.7 202.9 L555.0 201.6 L555.3 200.4 L555.6 199.2 L555.9 198.0 L556.2 196.8 L556.5 195.5 L556.8 194.3 L557.2 193.1 L557.5 191.9 L557.8 190.7 L558.1 189.4 L558.4 188.2 L558.8 187.0 L559.1 185.8 L559.4 184.6 L559.8 183.4 L560.1 182.1 L560.5 180.9 L560.8 179.7 L561.2 178.5 L561.5 177.3 L561.9 176.1 L562.2 174.9 L562.6 173.7 L563.0 172.5 L563.3 171.3 L563.7 170.1 L564.1 168.9 L564.5 167.7 L564.9 166.5 L565.3 165.4 L565.7 164.2 L566.2 163.0 L566.7 161.8 L567.1 160.7 L567.7 159.5 L568.2 158.3 L568.8 157.2 L569.4 156.1 L570.1 155.0 L570.8 153.9 L571.6 152.9 L572.4 152.0 L573.3 151.1 L574.3 150.3 L575.4 149.7 L576.5 149.1 L577.7 148.6 L579.0 148.2 L580.2 148.0 L581.5 147.9 L582.7 147.9 L584.0 148.1 L585.2 148.4 L586.4 148.7 L587.6 149.2 L588.8 149.7 L590.0 150.3 L591.1 150.9 L592.2 151.5 L593.3 152.2 L594.3 152.9 L595.3 153.7 L596.3 154.4 L597.3 155.2 L598.3 156.0 L599.2 156.9 L600.1 157.7 L601.1 158.6 L602.0 159.5 L602.9 160.3 L603.8 161.2 L604.7 162.1 L605.5 163.0 L606.4 163.9 L607.3 164.8 L608.2 165.8 L609.0 166.7 L609.9 167.6 L610.8 168.5 L611.7 169.4 L612.6 170.3 L613.4 171.2 L614.3 172.1 L615.2 173.0 L616.1 173.8 L617.0 174.7 L617.9 175.6 L618.8 176.5 L619.7 177.3 L620.6 178.2 L621.5 179.1 L622.5 179.9 L623.4 180.8 L624.4 181.6 L625.3 182.4 L626.3 183.2 L627.2 184.1 L628.2 184.9 L629.2 185.7 L630.1 186.4 L631.1 187.2 L632.1 188.0 L633.1 188.8 L634.1 189.5 L635.1 190.3 L636.1 191.0 L637.2 191.8 L638.2 192.5 L639.2 193.2 L640.2 194.0 L641.2 194.7 L642.3 195.4 L643.3 196.2 L644.3 196.9 L645.3 197.7 L646.3 198.4 L647.4 199.2 L648.4 199.9 L649.4 200.7 L650.4 201.4 L651.4 202.2 L652.4 203.0 L653.4 203.8 L654.3 204.5 L655.3 205.3 L656.3 206.1 L657.3 206.9 L658.2 207.7 L659.2 208.6 L660.1 209.4 L661.0 210.2 L662.0 211.1 L662.9 211.9 L663.8 212.8 L664.7 213.7 L665.7 214.5 L666.6 215.4 L667.5 216.2 L668.4 217.1 L669.4 217.9 L670.3 218.7 L671.3 219.6 L672.2 220.4 L673.1 221.3 L674.1 222.1 L675.0 223.0 L675.9 223.8 L676.8 224.7 L677.7 225.6 L678.6 226.5 L679.5 227.4 L680.3 228.3 L681.1 229.3 L681.9 230.2 L682.7 231.2 L683.5 232.2 L684.3 233.2 L685.1 234.2 L685.8 235.2 L686.6 236.2 L687.4 237.2 L688.1 238.2 L688.9 239.2 L689.7 240.2 L690.5 241.1 L691.3 242.1 L692.1 243.1 L692.9 244.1 L693.7 245.1 L694.5 246.0 L695.3 247.0 L696.1 248.0 L696.8 249.0 L697.6 250.0 L698.4 250.9 L699.2 251.9 L700.0 252.9 L700.7 253.9 L701.5 254.9 L702.3 255.9 L703.0 256.9 L703.7 258.0 L704.5 259.0 L705.2 260.0 L705.9 261.1 L706.6 262.1 L707.2 263.2 L707.9 264.2 L708.6 265.3 L709.2 266.4 L709.9 267.5 L710.5 268.5 L711.1 269.6 L711.7 270.7 L712.3 271.9 L712.9 273.0 L713.5 274.1 L714.1 275.2 L714.6 276.3 L715.2 277.5 L715.8 278.6 L716.3 279.7 L716.9 280.9 L717.4 282.0 L718.0 283.1 L718.5 284.3 L719.0 285.4 L719.6 286.6 L720.1 287.7 L720.6 288.9 L721.1 290.0 L721.6 291.2 L722.1 292.3 L722.6 293.5 L723.1 294.6 L723.6 295.8 L724.1 296.9 L724.6 298.1 L725.1 299.3 L725.6 300.4 L726.0 301.6 L726.5 302.8 L727.0 303.9 L727.4 305.1 L727.9 306.3 L728.3 307.4 L728.8 308.6 L729.2 309.8 L729.7 311.0 L730.1 312.2 L730.6 313.3 L731.0 314.5 L731.4 315.7 L731.8 316.9 L732.3 318.1 L732.7 319.3 L733.1 320.4 L733.5 321.6 L733.9 322.8 L734.3 324.0 L734.7 325.2 L735.1 326.4 L735.5 327.6 L735.9 328.8 L736.3 330.0 L736.7 331.2 L737.1 332.4 L737.5 333.6 L737.8 334.8 L738.2 336.0 L738.6 337.2 L739.0 338.4 L739.3 339.6 L739.7 340.8 L740.1 342.0 L740.5 343.2 L740.8 344.4 L741.2 345.6 L741.6 346.8 L741.9 348.0 L742.3 349.2 L742.6 350.4 L743.0 351.6 L743.3 352.8 L743.7 354.1 L744.0 355.3 L744.4 356.5 L744.7 357.7 L745.0 358.9 L745.3 360.1 L745.7 361.3 L746.0 362.6 L746.3 363.8 L746.6 365.0 L746.8 366.2 L747.1 367.5 L747.4 368.7 L747.7 369.9 L747.9 371.2 L748.2 372.4 L748.4 373.6 L748.7 374.9 L748.9 376.1 L749.1 377.3 L749.4 378.6 L749.6 379.8 L749.8 381.0 L750.0 382.3 L750.3 383.5 L750.5 384.8 L750.7 386.0" stroke="#0000ff" stroke-width="1.0" stroke-dasharray="1.5 3.7" stroke-linecap="butt"/>
</g>
<g fill="none" stroke-width="0.95" clip-path="url(#cb)">
<path d="M160.0 475.3 L161.3 475.3 L162.6 475.3 L163.9 475.3 L165.3 475.3 L166.6 475.4 L167.9 475.4 L169.2 475.4 L170.5 475.4 L171.8 475.4 L173.1 475.4 L174.4 475.5 L175.8 475.5 L177.1 475.5 L178.4 475.5 L179.7 475.6 L181.0 475.6 L182.3 475.6 L183.6 475.7 L184.9 475.7 L186.2 475.8 L187.6 475.8 L188.9 475.9 L190.2 476.0 L191.5 476.0 L192.8 476.1 L194.1 476.2 L195.4 476.3 L196.7 476.4 L198.0 476.5 L199.3 476.6 L200.6 476.7 L202.0 476.8 L203.3 476.9 L204.6 477.0 L205.9 477.1 L207.2 477.2 L208.5 477.3 L209.8 477.4 L211.1 477.5 L212.4 477.6 L213.7 477.8 L215.0 477.9 L216.3 478.0 L217.7 478.1 L219.0 478.2 L220.3 478.3 L221.6 478.4 L222.9 478.5 L224.2 478.6 L225.5 478.7 L226.8 478.8 L228.1 478.9 L229.4 479.1 L230.7 479.2 L232.1 479.3 L233.4 479.5 L234.7 479.6 L236.0 479.8 L237.3 480.0 L238.6 480.2 L239.9 480.4 L241.1 480.6 L242.4 480.8 L243.7 481.1 L245.0 481.3 L246.3 481.6 L247.6 481.9 L248.8 482.2 L250.1 482.6 L251.4 482.9 L252.7 483.3 L253.9 483.7 L255.2 484.1 L256.4 484.5 L257.7 484.9 L258.9 485.3 L260.1 485.8 L261.4 486.2 L262.6 486.7 L263.8 487.2 L265.0 487.7 L266.2 488.2 L267.4 488.7 L268.6 489.2 L269.8 489.7 L271.0 490.3 L272.2 490.8 L273.4 491.3 L274.6 491.9 L275.8 492.4 L277.0 492.9 L278.2 493.5 L279.5 494.0 L280.7 494.5 L281.9 495.0 L283.1 495.5 L284.3 496.0 L285.6 496.5 L286.8 496.9 L288.1 497.3 L289.3 497.6 L290.6 497.9 L291.9 498.2 L293.2 498.4 L294.4 498.5 L295.7 498.7 L297.0 498.8 L298.4 498.9 L299.7 499.0 L301.0 499.1 L302.3 499.1 L303.6 499.2 L304.9 499.3 L306.3 499.5 L307.6 499.6 L308.9 499.8 L310.2 500.0 L311.5 500.3 L312.8 500.6 L314.0 501.0 L315.2 501.5 L316.4 502.0 L317.6 502.7 L318.7 503.4 L319.8 504.1 L320.8 504.9 L321.9 505.7 L322.9 506.5 L324.0 507.3 L325.0 508.1 L326.0 509.0 L327.0 509.8 L328.1 510.6 L329.1 511.4 L330.1 512.3 L331.1 513.1 L332.1 513.9 L333.1 514.8 L334.1 515.6 L335.2 516.4 L336.2 517.3 L337.2 518.1 L338.2 518.9 L339.3 519.7 L340.3 520.5 L341.3 521.3 L342.4 522.1 L343.4 522.9 L344.5 523.7 L345.6 524.4 L346.6 525.2 L347.7 525.9 L348.8 526.6 L349.9 527.4 L351.0 528.1 L352.1 528.8 L353.3 529.4 L354.4 530.1 L355.5 530.8 L356.6 531.5 L357.8 532.1 L358.9 532.8 L360.1 533.4 L361.2 534.0 L362.4 534.6 L363.5 535.3 L364.7 535.9 L365.9 536.5 L367.0 537.1 L368.2 537.7 L369.4 538.2 L370.6 538.8 L371.7 539.4 L372.9 540.0 L374.1 540.5 L375.3 541.1 L376.5 541.7 L377.7 542.2 L378.9 542.8 L380.0 543.3 L381.2 543.9 L382.4 544.4 L383.6 545.0 L384.8 545.5 L386.0 546.0 L387.2 546.6 L388.4 547.1 L389.6 547.6 L390.8 548.2 L392.0 548.7 L393.2 549.2 L394.4 549.7 L395.6 550.2 L396.8 550.8 L398.1 551.3 L399.3 551.8 L400.5 552.3 L401.7 552.8 L402.9 553.3 L404.1 553.7 L405.4 554.2 L406.6 554.7 L407.8 555.2 L409.0 555.7 L410.3 556.1 L411.5 556.6 L412.7 557.1 L413.9 557.6 L415.2 558.0 L416.4 558.5 L417.6 559.0 L418.8 559.5 L420.0 560.1 L421.2 560.6 L422.4 561.1 L423.6 561.7 L424.8 562.2 L426.0 562.8 L427.1 563.4 L428.3 564.0 L429.4 564.6 L430.6 565.3 L431.7 566.0 L432.8 566.6 L433.9 567.3 L435.0 568.0 L436.1 568.7 L437.2 569.5 L438.3 570.2 L439.4 571.0 L440.5 571.7 L441.6 572.5 L442.6 573.2 L443.7 574.0 L444.8 574.8 L445.8 575.6 L446.9 576.3 L447.9 577.1 L449.0 577.9 L450.1 578.7 L451.1 579.5 L452.2 580.3 L453.2 581.1 L454.2 581.9 L455.3 582.7 L456.3 583.5 L457.3 584.3 L458.4 585.1 L459.4 585.9 L460.4 586.7 L461.4 587.6 L462.4 588.4 L463.4 589.3 L464.4 590.1 L465.4 591.0 L466.4 591.8 L467.4 592.7 L468.4 593.5 L469.4 594.4 L470.4 595.3 L471.4 596.2 L472.3 597.0 L473.3 597.9 L474.3 598.8 L475.3 599.7 L476.2 600.5 L477.2 601.4 L478.2 602.3 L479.2 603.2 L480.1 604.0 L481.1 604.9 L482.1 605.7 L483.1 606.5 L484.2 607.4 L485.2 608.2 L486.3 608.9 L487.4 609.7 L488.5 610.4 L489.6 611.1 L490.7 611.8 L491.9 612.5 L493.1 613.1 L494.3 613.7 L495.6 614.2 L496.8 614.6 L498.1 615.0 L499.4 615.3 L500.7 615.4 L502.0 615.5 L503.3 615.4 L504.6 615.3 L505.8 615.0 L507.1 614.6 L508.4 614.2 L509.6 613.6 L510.8 613.0 L512.0 612.4 L513.1 611.6 L514.2 610.8 L515.2 610.0 L516.2 609.1 L517.2 608.2 L518.1 607.3 L519.0 606.3 L519.8 605.3 L520.6 604.2 L521.4 603.2 L522.2 602.1 L522.9 601.0 L523.6 599.9 L524.3 598.8 L525.0 597.7 L525.7 596.5 L526.3 595.4 L527.0 594.2 L527.6 593.1 L528.2 591.9 L528.8 590.7 L529.3 589.6 L529.9 588.4 L530.4 587.2 L531.0 586.0 L531.5 584.8 L532.0 583.6 L532.5 582.4 L533.0 581.1 L533.5 579.9 L534.0 578.7 L534.5 577.5 L535.0 576.3 L535.5 575.1 L536.0 573.9 L536.5 572.7 L537.0 571.4 L537.6 570.2 L538.1 569.0 L538.6 567.8 L539.1 566.6 L539.6 565.4 L540.1 564.2 L540.7 563.0 L541.2 561.8 L541.7 560.6 L542.2 559.4 L542.7 558.2 L543.2 556.9 L543.7 555.7 L544.2 554.5 L544.7 553.3 L545.2 552.1 L545.7 550.9 L546.2 549.7 L546.7 548.5 L547.3 547.3 L547.8 546.1 L548.4 544.9 L549.1 543.8 L549.7 542.6 L550.4 541.5 L551.1 540.4 L551.9 539.3 L552.7 538.2 L553.5 537.2 L554.4 536.2 L555.4 535.3 L556.4 534.5 L557.5 533.7 L558.6 533.1 L559.9 532.5 L561.1 532.1 L562.4 531.9 L563.8 531.8 L565.1 531.9 L566.3 532.2 L567.6 532.6 L568.8 533.2 L570.0 533.9 L571.1 534.7 L572.1 535.6 L573.0 536.5 L573.9 537.5 L574.7 538.6 L575.4 539.6 L576.1 540.7 L576.8 541.9 L577.5 543.0 L578.2 544.2 L578.8 545.3 L579.5 546.4 L580.2 547.6 L580.9 548.7 L581.6 549.8 L582.3 550.9 L583.1 552.0 L583.8 553.0 L584.6 554.1 L585.4 555.1 L586.2 556.2 L587.0 557.2 L587.9 558.2 L588.7 559.2 L589.6 560.2 L590.5 561.1 L591.4 562.1 L592.3 563.0 L593.2 564.0 L594.2 564.9 L595.1 565.8 L596.1 566.7 L597.1 567.5 L598.1 568.4 L599.1 569.2 L600.2 570.0 L601.2 570.8 L602.3 571.6 L603.3 572.4 L604.4 573.1 L605.5 573.8 L606.6 574.5 L607.7 575.2 L608.9 575.9 L610.0 576.6 L611.1 577.2 L612.3 577.9 L613.4 578.5 L614.6 579.1 L615.8 579.7 L617.0 580.3 L618.1 580.9 L619.3 581.5 L620.5 582.0 L621.6 582.6 L622.8 583.2 L624.0 583.9 L625.1 584.5 L626.2 585.2 L627.4 585.8 L628.5 586.5 L629.6 587.2 L630.8 587.8 L631.9 588.5 L633.0 589.1 L634.2 589.8 L635.3 590.4 L636.5 591.0 L637.6 591.7 L638.8 592.3 L640.0 592.9 L641.1 593.4 L642.3 594.0 L643.5 594.6 L644.7 595.2 L645.9 595.7 L647.0 596.3 L648.2 596.9 L649.4 597.4 L650.6 598.0 L651.8 598.6 L653.0 599.1 L654.2 599.7 L655.3 600.3 L656.5 600.8 L657.7 601.4 L658.9 602.0 L660.1 602.6 L661.2 603.2 L662.4 603.8 L663.6 604.4 L664.7 605.0 L665.9 605.6 L667.1 606.2 L668.2 606.8 L669.4 607.4 L670.5 608.1 L671.7 608.7 L672.8 609.4 L673.9 610.0 L675.1 610.7 L676.2 611.3 L677.3 612.0 L678.5 612.7 L679.6 613.4 L680.7 614.1 L681.8 614.8 L682.9 615.5 L684.0 616.2 L685.1 616.9 L686.2 617.7 L687.3 618.4 L688.4 619.1 L689.5 619.9 L690.5 620.6 L691.6 621.4 L692.7 622.1 L693.7 622.9 L694.8 623.7 L695.9 624.4 L696.9 625.2 L698.0 626.0 L699.0 626.8 L700.1 627.6 L701.1 628.4 L702.2 629.2 L703.2 630.0 L704.2 630.8 L705.2 631.6 L706.3 632.4 L707.3 633.3 L708.3 634.1 L709.3 634.9 L710.3 635.8 L711.4 636.6 L712.4 637.4 L713.4 638.3 L714.4 639.1 L715.4 640.0 L716.3 640.9 L717.3 641.8 L718.3 642.6 L719.3 643.5 L720.3 644.4 L721.2 645.3 L722.2 646.2 L723.1 647.2 L724.0 648.1 L724.9 649.0 L725.8 650.0 L726.7 651.0 L727.6 651.9 L728.5 652.9 L729.3 653.9 L730.1 654.9 L730.9 656.0 L731.7 657.0 L732.5 658.1 L733.3 659.1 L734.0 660.2 L734.8 661.3 L735.5 662.4 L736.2 663.5 L736.9 664.6 L737.6 665.7 L738.3 666.8 L738.9 668.0 L739.6 669.1 L740.3 670.3 L740.9 671.4 L741.5 672.5 L742.2 673.7 L742.8 674.9 L743.5 676.0 L744.1 677.2 L744.7 678.3 L745.3 679.5 L745.9 680.7 L746.5 681.8 L747.1 683.0 L747.7 684.2 L748.2 685.4 L748.8 686.5 L749.3 687.7 L749.9 688.9 L750.4 690.1 L750.9 691.3 L751.4 692.6 L751.9 693.8 L752.4 695.0 L752.8 696.2 L753.3 697.5 L753.7 698.7 L754.2 699.9 L754.6 701.2 L755.0 702.4 L755.4 703.7 L755.8 704.9 L756.2 706.2 L756.6 707.4 L757.0 708.7 L757.3 709.9 L757.7 711.2 L758.1 712.5 L758.4 713.7 L758.8 715.0 L759.1 716.3 L759.4 717.5 L759.8 718.8 L760.1 720.1 L760.4 721.4 L760.7 722.6 L761.0 723.9 L761.3 725.2 L761.5 726.5 L761.8 727.8 L762.1 729.1 L762.3 730.3 L762.6 731.6 L762.8 732.9 L763.1 734.2 L763.3 735.5" stroke="#ff0000" stroke-dasharray="11.1 7.6"/>
<path d="M160.0 630.3 L161.4 630.3 L162.8 630.3 L164.2 630.3 L165.7 630.3 L167.1 630.3 L168.5 630.3 L169.9 630.3 L171.3 630.3 L172.7 630.3 L174.1 630.3 L175.6 630.3 L177.0 630.3 L178.4 630.3 L179.8 630.3 L181.2 630.3 L182.6 630.3 L184.1 630.3 L185.5 630.3 L186.9 630.3 L188.3 630.3 L189.7 630.3 L191.1 630.3 L192.5 630.3 L194.0 630.3 L195.4 630.3 L196.8 630.3 L198.2 630.3 L199.6 630.3 L201.0 630.3 L202.4 630.3 L203.8 630.3 L205.3 630.3 L206.7 630.3 L208.1 630.3 L209.5 630.3 L210.9 630.3 L212.3 630.3 L213.7 630.3 L215.2 630.3 L216.6 630.3 L218.0 630.3 L219.4 630.3 L220.8 630.3 L222.2 630.2 L223.6 630.2 L225.1 630.2 L226.5 630.2 L227.9 630.2 L229.3 630.2 L230.7 630.2 L232.1 630.2 L233.6 630.2 L235.0 630.2 L236.4 630.2 L237.8 630.2 L239.2 630.2 L240.6 630.2 L242.1 630.1 L243.5 630.1 L244.9 630.1 L246.3 630.0 L247.7 630.0 L249.1 629.9 L250.5 629.8 L251.9 629.7 L253.3 629.6 L254.7 629.4 L256.1 629.3 L257.5 629.1 L258.9 628.9 L260.3 628.7 L261.7 628.5 L263.1 628.3 L264.5 628.0 L265.9 627.7 L267.3 627.4 L268.7 627.1 L270.1 626.8 L271.5 626.5 L272.9 626.1 L274.3 625.7 L275.6 625.2 L276.9 624.7 L278.2 624.1 L279.5 623.5 L280.7 622.8 L281.8 622.0 L283.0 621.1 L284.0 620.2 L285.1 619.3 L286.1 618.2 L287.0 617.2 L288.0 616.1 L288.9 615.0 L289.8 613.9 L290.7 612.7 L291.5 611.6 L292.3 610.4 L293.1 609.3 L293.9 608.1 L294.7 606.9 L295.5 605.7 L296.2 604.5 L296.9 603.3 L297.6 602.1 L298.3 600.8 L299.0 599.6 L299.7 598.4 L300.3 597.1 L300.9 595.8 L301.6 594.5 L302.2 593.2 L302.8 591.9 L303.4 590.6 L304.0 589.4 L304.7 588.1 L305.4 586.9 L306.1 585.7 L306.9 584.5 L307.7 583.3 L308.6 582.3 L309.6 581.2 L310.6 580.2 L311.7 579.3 L312.9 578.5 L314.1 577.7 L315.4 577.1 L316.7 576.5 L318.0 576.1 L319.4 575.8 L320.8 575.6 L322.2 575.6 L323.6 575.7 L325.0 576.0 L326.4 576.3 L327.8 576.7 L329.1 577.2 L330.5 577.7 L331.8 578.2 L333.2 578.7 L334.5 579.3 L335.8 579.8 L337.1 580.4 L338.4 581.0 L339.7 581.6 L340.9 582.2 L342.2 582.8 L343.5 583.4 L344.8 584.0 L346.0 584.6 L347.3 585.3 L348.5 585.9 L349.8 586.5 L351.0 587.2 L352.3 587.8 L353.5 588.5 L354.8 589.1 L356.0 589.8 L357.3 590.4 L358.6 591.1 L359.8 591.7 L361.1 592.4 L362.3 593.0 L363.6 593.7 L364.8 594.3 L366.1 595.0 L367.4 595.6 L368.6 596.2 L369.9 596.9 L371.2 597.5 L372.4 598.1 L373.7 598.7 L375.0 599.4 L376.2 600.0 L377.5 600.6 L378.8 601.2 L380.1 601.8 L381.4 602.4 L382.6 603.1 L383.9 603.7 L385.2 604.3 L386.5 604.9 L387.8 605.5 L389.0 606.0 L390.3 606.6 L391.6 607.2 L392.9 607.8 L394.2 608.4 L395.5 609.0 L396.7 609.6 L398.0 610.2 L399.3 610.8 L400.6 611.4 L401.9 612.0 L403.1 612.6 L404.4 613.3 L405.7 613.9 L406.9 614.5 L408.2 615.1 L409.5 615.8 L410.7 616.4 L412.0 617.0 L413.3 617.7 L414.5 618.4 L415.8 619.0 L417.0 619.7 L418.3 620.3 L419.5 621.0 L420.7 621.7 L422.0 622.4 L423.2 623.1 L424.5 623.8 L425.7 624.5 L426.9 625.2 L428.1 625.9 L429.4 626.6 L430.6 627.3 L431.8 628.0 L433.0 628.8 L434.2 629.5 L435.4 630.3 L436.6 631.0 L437.8 631.8 L439.0 632.5 L440.2 633.3 L441.3 634.1 L442.5 634.9 L443.7 635.7 L444.8 636.5 L446.0 637.3 L447.2 638.1 L448.3 639.0 L449.4 639.8 L450.6 640.7 L451.7 641.5 L452.8 642.4 L453.9 643.3 L455.0 644.2 L456.1 645.1 L457.2 646.0 L458.3 646.9 L459.4 647.8 L460.4 648.8 L461.5 649.7 L462.6 650.6 L463.6 651.6 L464.7 652.5 L465.7 653.5 L466.7 654.5 L467.8 655.4 L468.8 656.4 L469.8 657.4 L470.8 658.4 L471.8 659.4 L472.8 660.3 L473.8 661.3 L474.8 662.3 L475.8 663.3 L476.8 664.3 L477.8 665.2 L478.8 666.2 L479.9 667.2 L480.9 668.1 L482.0 669.0 L483.1 670.0 L484.2 670.9 L485.4 671.8 L486.6 672.6 L487.8 673.5 L489.0 674.3 L490.3 675.0 L491.6 675.7 L492.9 676.4 L494.2 676.9 L495.6 677.3 L496.9 677.7 L498.3 677.9 L499.7 678.0 L501.1 678.0 L502.5 677.8 L503.9 677.5 L505.3 677.1 L506.6 676.5 L507.9 675.9 L509.2 675.1 L510.4 674.3 L511.5 673.4 L512.5 672.5 L513.4 671.4 L514.3 670.3 L515.1 669.2 L515.9 668.0 L516.6 666.7 L517.2 665.5 L517.9 664.2 L518.5 662.8 L519.1 661.5 L519.6 660.1 L520.2 658.8 L520.7 657.4 L521.2 656.1 L521.7 654.7 L522.3 653.4 L522.8 652.0 L523.3 650.7 L523.8 649.4 L524.3 648.1 L524.8 646.7 L525.3 645.4 L525.8 644.1 L526.2 642.8 L526.7 641.4 L527.2 640.1 L527.7 638.8 L528.1 637.5 L528.6 636.1 L529.0 634.8 L529.5 633.5 L529.9 632.2 L530.3 630.8 L530.8 629.5 L531.2 628.2 L531.6 626.8 L532.0 625.5 L532.4 624.1 L532.8 622.8 L533.2 621.4 L533.6 620.1 L534.0 618.7 L534.4 617.4 L534.8 616.0 L535.2 614.6 L535.5 613.3 L535.9 611.9 L536.3 610.5 L536.7 609.2 L537.0 607.8 L537.4 606.4 L537.8 605.1 L538.2 603.7 L538.5 602.3 L538.9 601.0 L539.3 599.6 L539.7 598.2 L540.0 596.8 L540.4 595.5 L540.8 594.1 L541.2 592.7 L541.6 591.4 L542.0 590.0 L542.3 588.6 L542.7 587.3 L543.1 585.9 L543.5 584.6 L543.9 583.2 L544.3 581.8 L544.7 580.5 L545.2 579.1 L545.6 577.8 L546.0 576.4 L546.4 575.1 L546.8 573.7 L547.3 572.4 L547.7 571.0 L548.1 569.7 L548.6 568.4 L549.0 567.0 L549.5 565.7 L549.9 564.4 L550.4 563.0 L550.9 561.7 L551.3 560.4 L551.8 559.1 L552.3 557.7 L552.7 556.4 L553.2 555.1 L553.7 553.7 L554.2 552.4 L554.6 551.1 L555.1 549.7 L555.6 548.4 L556.0 547.0 L556.5 545.7 L556.9 544.3 L557.4 542.9 L557.8 541.6 L558.3 540.2 L558.8 538.9 L559.3 537.5 L559.9 536.3 L560.6 535.0 L561.3 533.8 L562.1 532.6 L562.9 531.5 L563.9 530.5 L564.9 529.5 L566.0 528.6 L567.2 527.8 L568.4 527.1 L569.7 526.5 L571.1 526.0 L572.5 525.6 L573.9 525.5 L575.3 525.6 L576.6 525.9 L578.0 526.3 L579.3 527.0 L580.6 527.7 L581.8 528.5 L583.0 529.4 L584.1 530.4 L585.1 531.4 L586.1 532.4 L587.1 533.4 L588.0 534.5 L588.9 535.6 L589.8 536.7 L590.6 537.8 L591.5 538.9 L592.3 540.0 L593.2 541.1 L594.1 542.2 L595.0 543.3 L595.9 544.4 L596.8 545.5 L597.7 546.6 L598.6 547.7 L599.5 548.8 L600.3 549.9 L601.2 551.0 L602.0 552.2 L602.9 553.3 L603.7 554.5 L604.5 555.6 L605.3 556.8 L606.1 557.9 L606.9 559.1 L607.7 560.3 L608.5 561.5 L609.2 562.7 L610.0 563.8 L610.8 565.0 L611.6 566.2 L612.4 567.4 L613.1 568.6 L613.9 569.8 L614.7 570.9 L615.5 572.1 L616.3 573.3 L617.1 574.4 L618.0 575.6 L618.8 576.7 L619.7 577.9 L620.5 579.0 L621.4 580.1 L622.3 581.1 L623.3 582.2 L624.2 583.2 L625.2 584.3 L626.2 585.3 L627.2 586.2 L628.3 587.2 L629.3 588.2 L630.4 589.1 L631.4 590.1 L632.5 591.0 L633.5 592.0 L634.6 592.9 L635.6 593.8 L636.7 594.8 L637.8 595.7 L638.8 596.6 L639.9 597.5 L641.0 598.5 L642.0 599.4 L643.1 600.3 L644.2 601.2 L645.3 602.2 L646.3 603.1 L647.4 604.0 L648.4 605.0 L649.5 605.9 L650.6 606.8 L651.6 607.8 L652.7 608.7 L653.7 609.7 L654.8 610.6 L655.8 611.5 L656.9 612.5 L657.9 613.4 L659.0 614.4 L660.0 615.3 L661.1 616.3 L662.1 617.2 L663.2 618.2 L664.2 619.2 L665.3 620.1 L666.3 621.1 L667.3 622.0 L668.4 623.0 L669.5 623.9 L670.5 624.8 L671.6 625.8 L672.6 626.7 L673.7 627.7 L674.7 628.6 L675.8 629.5 L676.9 630.5 L677.9 631.4 L679.0 632.3 L680.1 633.2 L681.2 634.2 L682.2 635.1 L683.3 636.0 L684.4 636.9 L685.5 637.9 L686.5 638.8 L687.6 639.7 L688.7 640.7 L689.7 641.6 L690.8 642.5 L691.8 643.5 L692.9 644.4 L693.9 645.4 L695.0 646.4 L696.0 647.3 L697.0 648.3 L698.0 649.3 L699.0 650.3 L700.0 651.3 L701.0 652.3 L702.0 653.3 L702.9 654.4 L703.9 655.4 L704.8 656.5 L705.7 657.5 L706.7 658.6 L707.6 659.7 L708.5 660.8 L709.4 661.8 L710.3 662.9 L711.2 664.1 L712.1 665.2 L712.9 666.3 L713.8 667.4 L714.6 668.5 L715.5 669.7 L716.3 670.8 L717.2 672.0 L718.0 673.1 L718.8 674.3 L719.6 675.4 L720.4 676.6 L721.2 677.8 L722.0 678.9 L722.8 680.1 L723.6 681.3 L724.4 682.5 L725.1 683.7 L725.9 684.9 L726.6 686.1 L727.3 687.3 L728.0 688.6 L728.7 689.8 L729.4 691.0 L730.1 692.3 L730.7 693.5 L731.4 694.8 L732.0 696.0 L732.6 697.3 L733.2 698.6 L733.8 699.9 L734.4 701.2 L734.9 702.5 L735.5 703.8 L736.1 705.1 L736.6 706.4 L737.1 707.7 L737.7 709.0 L738.2 710.3 L738.7 711.6 L739.2 713.0 L739.8 714.3 L740.3 715.6 L740.8 716.9 L741.3 718.2 L741.8 719.6 L742.3 720.9 L742.8 722.2 L743.3 723.5 L743.8 724.8 L744.3 726.2 L744.8 727.5 L745.2 728.8 L745.7 730.2 L746.2 731.5 L746.7 732.8 L747.1 734.2 L747.6 735.5" stroke="#0000ff" stroke-width="1.0" stroke-dasharray="1.5 3.7" stroke-linecap="butt"/>
</g>
<path d="M218.00 97.00 h21.40 M218.00 113.60 h21.40 M224.20 106.10 h9.00 M228.70 97.00 V113.60" stroke="#00ff00" stroke-width="0.9" fill="none"/>
<path d="M218.00 108.50 h21.40 M218.00 136.50 h21.40 M224.20 121.50 h9.00 M228.70 109.70 V111.60 M228.70 116.40 V126.00 M228.70 129.70 V131.10 M228.70 134.50 V136.50" stroke="#0000ff" stroke-width="0.9" fill="none"/>
<path d="M218.00 143.30 h21.40 M218.00 164.20 h21.40 M224.20 154.40 h9.00 M228.70 143.30 V158.60 M228.70 161.20 V164.20" stroke="#ff0000" stroke-width="0.9" fill="none"/>
<path d="M569.75 56.50 h21.40 M569.75 73.60 h21.40 M575.95 66.10 h9.00 M580.45 56.50 V73.60" stroke="#00ff00" stroke-width="0.9" fill="none"/>
<path d="M569.75 91.50 h21.40 M569.75 117.50 h21.40 M575.95 104.50 h9.00 M580.45 99.90 V112.10" stroke="#ff0000" stroke-width="0.9" fill="none"/>
<path d="M569.75 86.00 h21.40 M569.75 105.90 h21.40 M575.95 96.50 h9.00 M580.45 88.30 V89.40 M580.45 92.10 V101.40" stroke="#0000ff" stroke-width="0.9" fill="none"/>
<path d="M748.80 51.50 h21.40 M748.80 75.60 h21.40 M755.00 65.10 h9.00 M759.50 51.50 V75.60" stroke="#00ff00" stroke-width="0.9" fill="none"/>
<path d="M748.80 86.20 h21.40 M748.80 119.50 h21.40 M755.00 102.20 h9.00 M759.50 92.20 V115.80" stroke="#ff0000" stroke-width="0.9" fill="none"/>
<path d="M748.80 68.40 h21.40 M748.80 92.20 h21.40 M755.00 81.40 h9.00 M759.50 73.10 V74.20 M759.50 77.10 V87.70" stroke="#0000ff" stroke-width="0.9" fill="none"/>
<path d="M218.00 431.30 h21.40 M218.00 464.60 h21.40 M224.20 445.20 h9.00 M228.70 434.10 V435.30 M228.70 439.20 V450.60 M228.70 455.80 V457.30 M228.70 460.10 V461.60" stroke="#0000ff" stroke-width="0.9" fill="none"/>
<path d="M218.00 483.50 h21.40 M218.00 505.70 h21.40 M224.20 494.00 h9.00 M228.70 489.30 V498.80 M228.70 500.80 V505.70" stroke="#ff0000" stroke-width="0.9" fill="none"/>
<path d="M569.75 467.50 h21.40 M569.75 495.00 h21.40 M575.95 479.40 h9.00 M580.45 472.20 V485.20 M580.45 493.30 V495.00" stroke="#ff0000" stroke-width="0.9" fill="none"/>
<path d="M569.75 458.50 h21.40 M569.75 477.70 h21.40 M575.95 467.50 h9.00 M580.45 460.20 V461.70 M580.45 463.00 V472.20 M580.45 474.10 V475.40" stroke="#0000ff" stroke-width="0.9" fill="none"/>
<path d="M748.80 460.60 h21.40 M748.80 500.00 h21.40 M755.00 477.70 h9.00 M759.50 460.60 V468.20 M759.50 473.20 V486.70 M759.50 494.30 V500.00" stroke="#ff0000" stroke-width="0.9" fill="none"/>
<path d="M748.80 434.30 h21.40 M748.80 459.30 h21.40 M755.00 446.80 h9.00 M759.50 437.90 V439.10 M759.50 442.20 V451.20 M759.50 454.00 V455.20" stroke="#0000ff" stroke-width="0.9" fill="none"/>
<g opacity="0.999">
<text x="131.88" y="18.20" textLength="66.82" lengthAdjust="spacingAndGlyphs" fill="#ff0000" stroke="#fff" stroke-width="0.4" paint-order="fill stroke" style='font-family:"Liberation Serif", serif;font-size:24px;'>Model</text>
<text x="208.07" y="18.20" textLength="14.44" lengthAdjust="spacingAndGlyphs" fill="#ff0000" stroke="#fff" stroke-width="0.4" paint-order="fill stroke" style='font-family:"Liberation Serif", serif;font-size:24px;'>F</text>
<text x="224.73" y="18.20" textLength="6.59" lengthAdjust="spacingAndGlyphs" fill="#ff0000" stroke="#fff" stroke-width="0.4" paint-order="fill stroke" style='font-family:"Liberation Serif", serif;font-size:24px;'>:</text>
<text x="243.66" y="18.20" textLength="61.97" lengthAdjust="spacingAndGlyphs" fill="#ff0000" stroke="#fff" stroke-width="0.4" paint-order="fill stroke" style='font-family:"Liberation Serif", serif;font-size:24px;'>Solar</text>
<text x="317.69" y="18.20" textLength="16.08" lengthAdjust="spacingAndGlyphs" fill="#ff0000" stroke="#fff" stroke-width="0.4" paint-order="fill stroke" style='font-family:"Liberation Serif", serif;font-size:24px;'>S</text>
<line x1="333.40" y1="22.60" x2="347.00" y2="0.20" stroke="#ff0000" stroke-width="0.9" stroke-linecap="round"/>
<text x="348.35" y="18.20" textLength="16.72" lengthAdjust="spacingAndGlyphs" fill="#ff0000" stroke="#fff" stroke-width="0.4" paint-order="fill stroke" style='font-family:"Liberation Serif", serif;font-size:24px;'>H</text>
<path d="M120.02 753.98 L120.74 752.54 L121.46 751.82 L122.90 751.10 L125.77 751.10 L127.93 751.82 L128.65 753.26 L128.65 755.41 L127.93 756.85 L125.77 757.57 L123.61 757.57 M125.77 757.57 L127.93 758.29 L128.65 759.01 L129.37 761.17 L129.37 762.60 L128.65 764.04 L127.21 765.48 L125.05 766.20 L122.90 766.20 L120.74 765.48 L120.02 764.76 L119.30 763.32 M137.71 751.10 L135.55 751.82 L134.11 753.98 L133.39 757.57 L133.39 759.73 L134.11 763.32 L135.55 765.48 L137.71 766.20 L139.15 766.20 L141.30 765.48 L142.74 763.32 L143.46 759.73 L143.46 757.57 L142.74 753.98 L141.30 751.82 L139.15 751.10 L137.71 751.10" fill="none" stroke="#000000" stroke-width="1.2" stroke-linecap="round" stroke-linejoin="round"/>
<path d="M271.42 754.70 L271.42 753.98 L272.14 752.54 L272.86 751.82 L274.30 751.10 L277.17 751.10 L278.61 751.82 L279.33 752.54 L280.05 753.98 L280.05 755.41 L279.33 756.85 L277.89 759.01 L270.70 766.20 L280.77 766.20 M293.42 751.10 L286.23 751.10 L285.51 757.57 L286.23 756.85 L288.39 756.13 L290.55 756.13 L292.70 756.85 L294.14 758.29 L294.86 760.45 L294.86 761.89 L294.14 764.04 L292.70 765.48 L290.55 766.20 L288.39 766.20 L286.23 765.48 L285.51 764.76 L284.79 763.32" fill="none" stroke="#000000" stroke-width="1.2" stroke-linecap="round" stroke-linejoin="round"/>
<path d="M422.22 754.70 L422.22 753.98 L422.94 752.54 L423.66 751.82 L425.10 751.10 L427.97 751.10 L429.41 751.82 L430.13 752.54 L430.85 753.98 L430.85 755.41 L430.13 756.85 L428.69 759.01 L421.50 766.20 L431.57 766.20 M439.91 751.10 L437.75 751.82 L436.31 753.98 L435.59 757.57 L435.59 759.73 L436.31 763.32 L437.75 765.48 L439.91 766.20 L441.35 766.20 L443.50 765.48 L444.94 763.32 L445.66 759.73 L445.66 757.57 L444.94 753.98 L443.50 751.82 L441.35 751.10 L439.91 751.10" fill="none" stroke="#000000" stroke-width="1.2" stroke-linecap="round" stroke-linejoin="round"/>
<path d="M575.70 753.98 L577.14 753.26 L579.30 751.10 L579.30 766.20 M576.06 766.20 L582.53 766.20 M596.26 751.10 L589.07 751.10 L588.36 757.57 L589.07 756.85 L591.23 756.13 L593.39 756.13 L595.55 756.85 L596.98 758.29 L597.70 760.45 L597.70 761.89 L596.98 764.04 L595.55 765.48 L593.39 766.20 L591.23 766.20 L589.07 765.48 L588.36 764.76 L587.64 763.32" fill="none" stroke="#000000" stroke-width="1.2" stroke-linecap="round" stroke-linejoin="round"/>
<path d="M728.50 753.98 L729.94 753.26 L732.10 751.10 L732.10 766.20 M728.86 766.20 L735.33 766.20 M744.75 751.10 L742.59 751.82 L741.16 753.98 L740.44 757.57 L740.44 759.73 L741.16 763.32 L742.59 765.48 L744.75 766.20 L746.19 766.20 L748.35 765.48 L749.78 763.32 L750.50 759.73 L750.50 757.57 L749.78 753.98 L748.35 751.82 L746.19 751.10 L744.75 751.10" fill="none" stroke="#000000" stroke-width="1.2" stroke-linecap="round" stroke-linejoin="round"/>
<path d="M99.95 95.14 L108.26 95.14 M117.50 92.83 L117.04 94.22 L116.11 95.14 L114.73 95.60 L114.27 95.60 L112.88 95.14 L111.96 94.22 L111.50 92.83 L111.50 92.37 L111.96 90.99 L112.88 90.06 L114.27 89.60 L114.73 89.60 L116.11 90.06 L117.04 90.99 L117.50 92.83 L117.50 95.14 L117.04 97.45 L116.11 98.84 L114.73 99.30 L113.80 99.30 L112.42 98.84 L111.96 97.91" fill="none" stroke="#000000" stroke-width="1.05" stroke-linecap="round" stroke-linejoin="round"/>
<path d="M72.01 100.81 L73.46 100.09 L75.65 97.90 L75.65 113.20 M72.37 113.20 L78.93 113.20 M88.47 97.90 L86.29 98.63 L84.83 100.81 L84.10 104.46 L84.10 106.64 L84.83 110.29 L86.29 112.47 L88.47 113.20 L89.93 113.20 L92.11 112.47 L93.57 110.29 L94.30 106.64 L94.30 104.46 L93.57 100.81 L92.11 98.63 L89.93 97.90 L88.47 97.90" fill="none" stroke="#000000" stroke-width="1.2" stroke-linecap="round" stroke-linejoin="round"/>
<path d="M90.43 199.89 L98.75 199.89 M103.37 196.20 L104.29 195.74 L105.68 194.35 L105.68 204.05 M103.60 204.05 L107.75 204.05 M111.50 196.66 L111.50 196.20 L111.96 195.27 L112.42 194.81 L113.34 194.35 L115.19 194.35 L116.11 194.81 L116.58 195.27 L117.04 196.20 L117.04 197.12 L116.58 198.05 L115.65 199.43 L111.03 204.05 L117.50 204.05" fill="none" stroke="#000000" stroke-width="1.05" stroke-linecap="round" stroke-linejoin="round"/>
<path d="M62.11 205.56 L63.56 204.84 L65.75 202.65 L65.75 217.95 M62.47 217.95 L69.03 217.95 M78.57 202.65 L76.39 203.38 L74.93 205.56 L74.20 209.21 L74.20 211.39 L74.93 215.04 L76.39 217.22 L78.57 217.95 L80.03 217.95 L82.21 217.22 L83.67 215.04 L84.40 211.39 L84.40 209.21 L83.67 205.56 L82.21 203.38 L80.03 202.65 L78.57 202.65" fill="none" stroke="#000000" stroke-width="1.2" stroke-linecap="round" stroke-linejoin="round"/>
<path d="M90.43 304.69 L98.75 304.69 M103.37 301.00 L104.29 300.54 L105.68 299.15 L105.68 308.85 M103.60 308.85 L107.75 308.85 M116.58 299.15 L111.96 299.15 L111.50 303.31 L111.96 302.85 L113.34 302.38 L114.73 302.38 L116.11 302.85 L117.04 303.77 L117.50 305.15 L117.50 306.08 L117.04 307.46 L116.11 308.39 L114.73 308.85 L113.34 308.85 L111.96 308.39 L111.50 307.93 L111.03 307.00" fill="none" stroke="#000000" stroke-width="1.05" stroke-linecap="round" stroke-linejoin="round"/>
<path d="M62.11 310.36 L63.56 309.64 L65.75 307.45 L65.75 322.75 M62.47 322.75 L69.03 322.75 M78.57 307.45 L76.39 308.18 L74.93 310.36 L74.20 314.01 L74.20 316.19 L74.93 319.84 L76.39 322.02 L78.57 322.75 L80.03 322.75 L82.21 322.02 L83.67 319.84 L84.40 316.19 L84.40 314.01 L83.67 310.36 L82.21 308.18 L80.03 307.45 L78.57 307.45" fill="none" stroke="#000000" stroke-width="1.2" stroke-linecap="round" stroke-linejoin="round"/>
<path d="M108.88 416.01 L110.34 415.29 L112.52 413.10 L112.52 428.40 M109.24 428.40 L115.80 428.40" fill="none" stroke="#000000" stroke-width="1.2" stroke-linecap="round" stroke-linejoin="round"/>
<path d="M99.49 515.29 L107.80 515.29 M111.50 512.06 L111.50 511.60 L111.96 510.67 L112.42 510.21 L113.34 509.75 L115.19 509.75 L116.11 510.21 L116.58 510.67 L117.04 511.60 L117.04 512.52 L116.58 513.45 L115.65 514.83 L111.03 519.45 L117.50 519.45" fill="none" stroke="#000000" stroke-width="1.05" stroke-linecap="round" stroke-linejoin="round"/>
<path d="M72.01 520.96 L73.46 520.24 L75.65 518.05 L75.65 533.35 M72.37 533.35 L78.93 533.35 M88.47 518.05 L86.29 518.78 L84.83 520.96 L84.10 524.61 L84.10 526.79 L84.83 530.44 L86.29 532.62 L88.47 533.35 L89.93 533.35 L92.11 532.62 L93.57 530.44 L94.30 526.79 L94.30 524.61 L93.57 520.96 L92.11 518.78 L89.93 518.05 L88.47 518.05" fill="none" stroke="#000000" stroke-width="1.2" stroke-linecap="round" stroke-linejoin="round"/>
<path d="M99.02 619.49 L107.34 619.49 M115.19 613.95 L110.57 620.42 L117.50 620.42 M115.19 613.95 L115.19 623.65" fill="none" stroke="#000000" stroke-width="1.05" stroke-linecap="round" stroke-linejoin="round"/>
<path d="M72.01 625.16 L73.46 624.44 L75.65 622.25 L75.65 637.55 M72.37 637.55 L78.93 637.55 M88.47 622.25 L86.29 622.98 L84.83 625.16 L84.10 628.81 L84.10 630.99 L84.83 634.64 L86.29 636.82 L88.47 637.55 L89.93 637.55 L92.11 636.82 L93.57 634.64 L94.30 630.99 L94.30 628.81 L93.57 625.16 L92.11 622.98 L89.93 622.25 L88.47 622.25" fill="none" stroke="#000000" stroke-width="1.2" stroke-linecap="round" stroke-linejoin="round"/>
<path d="M99.49 723.79 L107.80 723.79 M117.04 719.64 L116.58 718.71 L115.19 718.25 L114.27 718.25 L112.88 718.71 L111.96 720.10 L111.50 722.41 L111.50 724.72 L111.96 726.56 L112.88 727.49 L114.27 727.95 L114.73 727.95 L116.11 727.49 L117.04 726.56 L117.50 725.18 L117.50 724.72 L117.04 723.33 L116.11 722.41 L114.73 721.95 L114.27 721.95 L112.88 722.41 L111.96 723.33 L111.50 724.72" fill="none" stroke="#000000" stroke-width="1.05" stroke-linecap="round" stroke-linejoin="round"/>
<path d="M72.01 729.46 L73.46 728.74 L75.65 726.55 L75.65 741.85 M72.37 741.85 L78.93 741.85 M88.47 726.55 L86.29 727.28 L84.83 729.46 L84.10 733.11 L84.10 735.29 L84.83 738.94 L86.29 741.12 L88.47 741.85 L89.93 741.85 L92.11 741.12 L93.57 738.94 L94.30 735.29 L94.30 733.11 L93.57 729.46 L92.11 727.28 L89.93 726.55 L88.47 726.55" fill="none" stroke="#000000" stroke-width="1.2" stroke-linecap="round" stroke-linejoin="round"/>
<text x="310.71" y="229.00" textLength="16.12" lengthAdjust="spacingAndGlyphs" fill="#00ff00" stroke="#fff" stroke-width="0.4" paint-order="fill stroke" style='font-family:"Liberation Serif", serif;font-size:24.3px;'>C</text>
<text x="325.96" y="229.00" textLength="15.30" lengthAdjust="spacingAndGlyphs" fill="#00ff00" stroke="#fff" stroke-width="0.4" paint-order="fill stroke" style='font-family:"Liberation Serif", serif;font-size:24.3px;'>C</text>
<text x="340.77" y="229.00" textLength="16.18" lengthAdjust="spacingAndGlyphs" fill="#00ff00" stroke="#fff" stroke-width="0.4" paint-order="fill stroke" style='font-family:"Liberation Serif", serif;font-size:24.3px;'>H</text>
<text x="314.16" y="293.90" textLength="12.16" lengthAdjust="spacingAndGlyphs" fill="#ff0000" stroke="#fff" stroke-width="0.4" paint-order="fill stroke" style='font-family:"Liberation Serif", serif;font-size:24.3px;'>c</text>
<line x1="329.70" y1="286.70" x2="342.80" y2="286.70" stroke="#ff0000" stroke-width="0.9" stroke-linecap="round"/>
<text x="345.96" y="293.90" textLength="15.30" lengthAdjust="spacingAndGlyphs" fill="#ff0000" stroke="#fff" stroke-width="0.4" paint-order="fill stroke" style='font-family:"Liberation Serif", serif;font-size:24.3px;'>C</text>
<text x="360.54" y="299.40" textLength="9.18" lengthAdjust="spacingAndGlyphs" fill="#ff0000" stroke="#fff" stroke-width="0.3" paint-order="fill stroke" style='font-family:"Liberation Serif", serif;font-size:17px;'>3</text>
<text x="370.43" y="293.90" textLength="17.27" lengthAdjust="spacingAndGlyphs" fill="#ff0000" stroke="#fff" stroke-width="0.4" paint-order="fill stroke" style='font-family:"Liberation Serif", serif;font-size:24.3px;'>H</text>
<text x="387.41" y="299.40" textLength="10.32" lengthAdjust="spacingAndGlyphs" fill="#ff0000" stroke="#fff" stroke-width="0.3" paint-order="fill stroke" style='font-family:"Liberation Serif", serif;font-size:17px;'>2</text>
<text x="357.86" y="525.90" textLength="12.16" lengthAdjust="spacingAndGlyphs" fill="#ff0000" stroke="#fff" stroke-width="0.4" paint-order="fill stroke" style='font-family:"Liberation Serif", serif;font-size:24.3px;'>c</text>
<line x1="373.40" y1="518.70" x2="386.50" y2="518.70" stroke="#ff0000" stroke-width="0.9" stroke-linecap="round"/>
<text x="389.66" y="525.90" textLength="15.30" lengthAdjust="spacingAndGlyphs" fill="#ff0000" stroke="#fff" stroke-width="0.4" paint-order="fill stroke" style='font-family:"Liberation Serif", serif;font-size:24.3px;'>C</text>
<text x="404.24" y="531.40" textLength="9.18" lengthAdjust="spacingAndGlyphs" fill="#ff0000" stroke="#fff" stroke-width="0.3" paint-order="fill stroke" style='font-family:"Liberation Serif", serif;font-size:17px;'>3</text>
<text x="414.13" y="525.90" textLength="17.27" lengthAdjust="spacingAndGlyphs" fill="#ff0000" stroke="#fff" stroke-width="0.4" paint-order="fill stroke" style='font-family:"Liberation Serif", serif;font-size:24.3px;'>H</text>
<text x="431.11" y="531.40" textLength="10.32" lengthAdjust="spacingAndGlyphs" fill="#ff0000" stroke="#fff" stroke-width="0.3" paint-order="fill stroke" style='font-family:"Liberation Serif", serif;font-size:17px;'>2</text>
<text x="272.05" y="366.00" textLength="15.42" lengthAdjust="spacingAndGlyphs" fill="#0000ff" stroke="#fff" stroke-width="0.4" paint-order="fill stroke" style='font-family:"Liberation Serif", serif;font-size:24.3px;'>C</text>
<text x="287.27" y="371.70" textLength="8.80" lengthAdjust="spacingAndGlyphs" fill="#0000ff" stroke="#fff" stroke-width="0.3" paint-order="fill stroke" style='font-family:"Liberation Serif", serif;font-size:17px;'>4</text>
<text x="296.73" y="366.00" textLength="17.16" lengthAdjust="spacingAndGlyphs" fill="#0000ff" stroke="#fff" stroke-width="0.4" paint-order="fill stroke" style='font-family:"Liberation Serif", serif;font-size:24.3px;'>H</text>
<text x="272.05" y="573.20" textLength="15.42" lengthAdjust="spacingAndGlyphs" fill="#0000ff" stroke="#fff" stroke-width="0.4" paint-order="fill stroke" style='font-family:"Liberation Serif", serif;font-size:24.3px;'>C</text>
<text x="287.27" y="578.90" textLength="8.80" lengthAdjust="spacingAndGlyphs" fill="#0000ff" stroke="#fff" stroke-width="0.3" paint-order="fill stroke" style='font-family:"Liberation Serif", serif;font-size:17px;'>4</text>
<text x="296.73" y="573.20" textLength="17.16" lengthAdjust="spacingAndGlyphs" fill="#0000ff" stroke="#fff" stroke-width="0.4" paint-order="fill stroke" style='font-family:"Liberation Serif", serif;font-size:24.3px;'>H</text>
<text x="411.75" y="791.00" textLength="12.01" lengthAdjust="spacingAndGlyphs" fill="#000000" stroke="#fff" stroke-width="0.3" paint-order="fill stroke" style='font-family:"Liberation Serif", serif;font-size:22px;font-style:italic;'>δ</text>
<text x="425.81" y="791.00" textLength="12.08" lengthAdjust="spacingAndGlyphs" fill="#000000" stroke="#fff" stroke-width="0.15" paint-order="fill stroke" style='font-family:"Liberation Serif", serif;font-size:24.3px;'>x</text>
<text x="450.87" y="790.50" textLength="8.78" lengthAdjust="spacingAndGlyphs" fill="#000000" stroke="#fff" stroke-width="0.4" paint-order="fill stroke" style='font-family:"Liberation Serif", serif;font-size:25.5px;'>(</text>
<text x="460.59" y="791.00" textLength="79.04" lengthAdjust="spacingAndGlyphs" fill="#000000" stroke="#fff" stroke-width="0.4" paint-order="fill stroke" style='font-family:"Liberation Serif", serif;font-size:24.3px;'>arcsec</text>
<text x="540.76" y="790.50" textLength="8.78" lengthAdjust="spacingAndGlyphs" fill="#000000" stroke="#fff" stroke-width="0.4" paint-order="fill stroke" style='font-family:"Liberation Serif", serif;font-size:25.5px;'>)</text>
<g transform="translate(19.2 282.0) rotate(-90)"><text x="-1.86" y="-1.00" textLength="10.15" lengthAdjust="spacingAndGlyphs" fill="#000000" stroke="#fff" stroke-width="0.4" paint-order="fill stroke" style='font-family:"Liberation Serif", serif;font-size:27px;'>[</text><text x="8.03" y="0.00" textLength="12.78" lengthAdjust="spacingAndGlyphs" fill="#000000" stroke="#fff" stroke-width="0.4" paint-order="fill stroke" style='font-family:"Liberation Serif", serif;font-size:24.3px;'>X</text><text x="20.90" y="-1.00" textLength="10.15" lengthAdjust="spacingAndGlyphs" fill="#000000" stroke="#fff" stroke-width="0.4" paint-order="fill stroke" style='font-family:"Liberation Serif", serif;font-size:27px;'>]</text><text x="32.44" y="0.00" textLength="12.20" lengthAdjust="spacingAndGlyphs" fill="#000000" stroke="#fff" stroke-width="0.4" paint-order="fill stroke" style='font-family:"Liberation Serif", serif;font-size:24.3px;'>=</text><text x="49.93" y="0.00" textLength="15.23" lengthAdjust="spacingAndGlyphs" fill="#000000" stroke="#fff" stroke-width="0.4" paint-order="fill stroke" style='font-family:"Liberation Serif", serif;font-size:24.3px;'>n</text><text x="65.65" y="-1.00" textLength="9.68" lengthAdjust="spacingAndGlyphs" fill="#000000" stroke="#fff" stroke-width="0.4" paint-order="fill stroke" style='font-family:"Liberation Serif", serif;font-size:27px;'>(</text><text x="76.30" y="0.00" textLength="13.83" lengthAdjust="spacingAndGlyphs" fill="#000000" stroke="#fff" stroke-width="0.4" paint-order="fill stroke" style='font-family:"Liberation Serif", serif;font-size:24.3px;'>X</text><text x="90.28" y="-1.00" textLength="9.55" lengthAdjust="spacingAndGlyphs" fill="#000000" stroke="#fff" stroke-width="0.4" paint-order="fill stroke" style='font-family:"Liberation Serif", serif;font-size:27px;'>)</text><line x1="101.80" y1="4.40" x2="114.90" y2="-19.00" stroke="#000000" stroke-width="0.95" stroke-linecap="round"/><text x="116.23" y="0.00" textLength="15.23" lengthAdjust="spacingAndGlyphs" fill="#000000" stroke="#fff" stroke-width="0.4" paint-order="fill stroke" style='font-family:"Liberation Serif", serif;font-size:24.3px;'>n</text><text x="131.54" y="6.20" textLength="11.95" lengthAdjust="spacingAndGlyphs" fill="#000000" stroke="#fff" stroke-width="0.3" paint-order="fill stroke" style='font-family:"Liberation Serif", serif;font-size:19px;'>H</text></g>
<g transform="translate(19.2 617.0) rotate(-90)"><text x="-0.19" y="0.00" textLength="15.77" lengthAdjust="spacingAndGlyphs" fill="#000000" stroke="#fff" stroke-width="0.4" paint-order="fill stroke" style='font-family:"Liberation Serif", serif;font-size:24.3px;'>n</text><text x="17.37" y="-1.00" textLength="9.55" lengthAdjust="spacingAndGlyphs" fill="#000000" stroke="#fff" stroke-width="0.4" paint-order="fill stroke" style='font-family:"Liberation Serif", serif;font-size:27px;'>(</text><text x="26.43" y="0.00" textLength="12.67" lengthAdjust="spacingAndGlyphs" fill="#000000" stroke="#fff" stroke-width="0.4" paint-order="fill stroke" style='font-family:"Liberation Serif", serif;font-size:24.3px;'>X</text><text x="38.68" y="-1.00" textLength="9.55" lengthAdjust="spacingAndGlyphs" fill="#000000" stroke="#fff" stroke-width="0.4" paint-order="fill stroke" style='font-family:"Liberation Serif", serif;font-size:27px;'>)</text><line x1="50.20" y1="4.40" x2="65.70" y2="-19.00" stroke="#000000" stroke-width="0.95" stroke-linecap="round"/><text x="66.74" y="0.00" textLength="14.90" lengthAdjust="spacingAndGlyphs" fill="#000000" stroke="#fff" stroke-width="0.4" paint-order="fill stroke" style='font-family:"Liberation Serif", serif;font-size:24.3px;'>n</text><text x="81.56" y="5.90" textLength="31.89" lengthAdjust="spacingAndGlyphs" fill="#000000" stroke="#fff" stroke-width="0.3" paint-order="fill stroke" style='font-family:"Liberation Serif", serif;font-size:19px;'>CCH</text></g>
</g>
</svg>
</body></html>
